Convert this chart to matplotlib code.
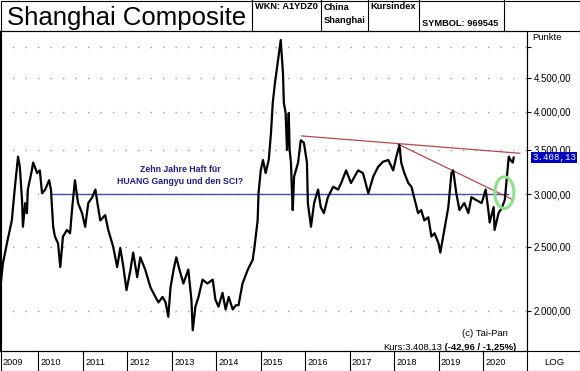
import matplotlib.pyplot as plt
import matplotlib.transforms as mtransforms
from matplotlib.lines import Line2D
from matplotlib.patches import Ellipse, Rectangle
from matplotlib.ticker import FixedLocator, FuncFormatter, NullLocator

plt.rcParams['font.family'] = ['Liberation Sans', 'DejaVu Sans']

# index readings (fractional year, points)
dates = [2009.13, 2009.20, 2009.29, 2009.40, 2009.47, 2009.54, 2009.58, 2009.63, 2009.65, 2009.70,
         2009.74, 2009.76, 2009.85, 2009.88, 2009.97, 2010.03, 2010.08, 2010.15, 2010.24, 2010.28,
         2010.33, 2010.37, 2010.44, 2010.49, 2010.55, 2010.64, 2010.71, 2010.76, 2010.82, 2010.89,
         2010.98, 2011.05, 2011.12, 2011.21, 2011.28, 2011.34, 2011.39, 2011.50, 2011.57, 2011.68,
         2011.77, 2011.84, 2011.91, 2011.98, 2012.07, 2012.13, 2012.22, 2012.29, 2012.40, 2012.52,
         2012.63, 2012.70, 2012.79, 2012.86, 2012.92, 2012.97, 2013.04, 2013.10, 2013.17, 2013.26,
         2013.37, 2013.44, 2013.47, 2013.53, 2013.60, 2013.69, 2013.80, 2013.92, 2013.98, 2014.05,
         2014.14, 2014.21, 2014.28, 2014.37, 2014.44, 2014.50, 2014.59, 2014.71, 2014.82, 2014.86,
         2014.93, 2014.95, 2015.00, 2015.05, 2015.11, 2015.18, 2015.23, 2015.27, 2015.32, 2015.38,
         2015.45, 2015.50, 2015.52, 2015.56, 2015.59, 2015.61, 2015.63, 2015.65, 2015.68, 2015.70,
         2015.72, 2015.75, 2015.84, 2015.90, 2015.97, 2016.04, 2016.06, 2016.13, 2016.20, 2016.29,
         2016.35, 2016.42, 2016.51, 2016.63, 2016.74, 2016.81, 2016.92, 2017.03, 2017.19, 2017.30,
         2017.42, 2017.53, 2017.64, 2017.75, 2017.87, 2017.98, 2018.05, 2018.12, 2018.16, 2018.23,
         2018.32, 2018.39, 2018.45, 2018.54, 2018.61, 2018.68, 2018.77, 2018.84, 2018.91, 2019.00,
         2019.04, 2019.13, 2019.22, 2019.29, 2019.33, 2019.40, 2019.47, 2019.58, 2019.67, 2019.74,
         2019.85, 2019.97, 2020.06, 2020.12, 2020.15, 2020.24, 2020.26, 2020.35, 2020.42, 2020.49,
         2020.53, 2020.58, 2020.62, 2020.67, 2020.69]
closes = [2130, 2360, 2530, 2740, 3080, 3420, 3300, 2940, 2680, 2910,
          2810, 3050, 3260, 3350, 3230, 3260, 3010, 3050, 3150, 3050,
          2680, 2590, 2530, 2330, 2590, 2650, 2620, 2870, 3150, 2910,
          2810, 2680, 2910, 2970, 3050, 2870, 2740, 2790, 2650, 2500,
          2330, 2490, 2330, 2150, 2310, 2450, 2250, 2410, 2310, 2170,
          2100, 2060, 2100, 2060, 1960, 2170, 2310, 2410, 2310, 2200,
          2310, 2080, 1870, 2030, 2100, 2230, 2200, 2230, 2080, 2030,
          2130, 2010, 2100, 2010, 2040, 2040, 2200, 2310, 2390, 2500,
          2740, 3010, 3260, 3380, 3230, 3380, 3710, 4120, 4420, 4740,
          5130, 4570, 4120, 3980, 3500, 3660, 3980, 3500, 3350, 3050,
          2840, 3190, 3350, 3620, 3590, 3350, 2910, 2680, 2910, 3050,
          2870, 2810, 2970, 3080, 3050, 3120, 3260, 3120, 3260, 3230,
          3010, 3190, 3300, 3360, 3380, 3260, 3420, 3560, 3350, 3230,
          3120, 3080, 2970, 2810, 2840, 2740, 2770, 2590, 2620, 2530,
          2450, 2650, 2870, 3230, 3260, 3010, 2840, 2910, 2810, 2970,
          2940, 2910, 3050, 2840, 2720, 2870, 2650, 2810, 2860, 2940,
          3150, 3420, 3380, 3350, 3408.13]

years = list(range(2009, 2021))
y_ticks = [2000, 2500, 3000, 3500, 4000, 4500, 5000]

# drawn lines
resist_dates = [2015.92, 2020.83]
resist_vals = [3675, 3460]
down_dates = [2018.08, 2020.65]
down_vals = [3574, 2949]
level_dates = [2010.30, 2020.56]
level_vals = [3000, 3000]

last_close = 3408.13
x_left, x_right = 2009.134, 2020.99

W, H = 580, 371


def de_fmt(v, pos=None):
    if v >= 5000:
        return ''
    s = f"{v:,.2f}"
    return s.replace(',', 'X').replace('.', ',').replace('X', '.')


fig = plt.figure(figsize=(W / 100, H / 100), dpi=100)
fig.patch.set_facecolor('white')

ax = fig.add_axes([0, 20 / H, 527 / W, 320 / H])
ax.plot(dates, closes, color='black', lw=1.6, zorder=3)
ax.plot(level_dates, level_vals, color='#4b4ba6', lw=1.0, zorder=2)
ax.plot(resist_dates, resist_vals, color='#b04a4a', lw=0.9, zorder=2)
ax.plot(down_dates, down_vals, color='#b04a4a', lw=0.9, zorder=2)
ax.add_patch(Ellipse((0.957, 0.495), 0.036, 0.099, transform=ax.transAxes,
                     fill=False, ec='#8fe08a', lw=2.2, zorder=4))

ax.set_yscale('log')
ax.set_ylim(1740, 5293)
ax.set_xlim(x_left, x_right)
ax.set_xticks([])
ax.yaxis.set_major_locator(FixedLocator(y_ticks))
ax.yaxis.set_minor_locator(NullLocator())
ax.yaxis.set_major_formatter(FuncFormatter(de_fmt))
ax.yaxis.tick_right()
ax.tick_params(axis='y', direction='out', length=3, width=0.8, pad=2, labelsize=7)
ax.grid(axis='y', color='#9a9a9a', linestyle=(0, (1, 8)), lw=1)
for sp in ax.spines.values():
    sp.set_color('black')
    sp.set_linewidth(0.8)

ax.annotate(de_fmt(last_close), xy=(1, last_close), xycoords=('axes fraction', 'data'),
            xytext=(5, 0), textcoords='offset pixels', va='center', ha='left',
            fontsize=6.6, family=['Liberation Mono', 'DejaVu Sans Mono'], color='white',
            bbox=dict(boxstyle='square,pad=0.12', fc='#0000c0', ec='none'),
            annotation_clip=False, zorder=5)

# overlay in pixel coordinates for the frame, header and footer
frame = fig.add_axes([0, 0, 1, 1], zorder=5)
frame.set_xlim(0, W)
frame.set_ylim(H, 0)
frame.set_autoscale_on(False)
frame.axis('off')
frame.patch.set_alpha(0)

lw = 0.8
frame.add_patch(Rectangle((0.5, 0.5), W - 1, H - 1, fill=False, ec='black', lw=lw))
frame.add_line(Line2D([0, W], [31, 31], color='black', lw=lw))
frame.add_line(Line2D([0, W], [351, 351], color='black', lw=lw))
frame.add_line(Line2D([527, 527], [31, H], color='black', lw=lw))
for hx in [251.7, 320.7, 367.7, 419, 504]:
    frame.add_line(Line2D([hx, hx], [0, 31], color='black', lw=lw))

frame.text(7, 25, 'Shanghai Composite', fontsize=18.5, va='baseline')
hdr = dict(fontsize=6.7, weight='bold', va='center', ha='left')
frame.text(255, 6.5, 'WKN: A1YDZ0', **hdr)
frame.text(323.5, 7.3, 'China', **hdr)
frame.text(323.5, 20.7, 'Shanghai', **hdr)
frame.text(370.5, 6.8, 'Kursindex', **hdr)
frame.text(422, 24, 'SYMBOL: 969545', **hdr)
frame.text(532, 38, 'Punkte', fontsize=6.8, va='center', ha='left')

note = dict(fontsize=6.3, weight='bold', color='#1c1c8c', ha='center', va='center')
frame.text(180.5, 170, 'Zehn Jahre Haft für', **note)
frame.text(180.5, 181.7, 'HUANG Gangyu und den SCI?', **note)

frame.text(508, 334, '(c) Tai-Pan', fontsize=6.8, ha='right', va='center')
t1 = frame.text(383, 347.5, 'Kurs:3.408,13', fontsize=6.8, ha='left', va='center')
frame.annotate(' (-42,96 / -1,25%)', xy=(1, 0.5), xycoords=t1, fontsize=6.8,
               weight='bold', ha='left', va='center')

# year cells along the bottom, placed on the chart's time scale
trans = mtransforms.blended_transform_factory(ax.transData, frame.transData)
for yr in years[1:]:
    frame.add_line(Line2D([yr, yr], [351, H], color='black', lw=lw, transform=trans))
for yr in years:
    frame.text(max(yr, x_left) + 0.05, 362.5, str(yr), transform=trans,
               fontsize=6.6, ha='left', va='center')
frame.text(554, 362.5, 'LOG', fontsize=6.8, ha='center', va='center')

fig.savefig('out.png', dpi=100)
